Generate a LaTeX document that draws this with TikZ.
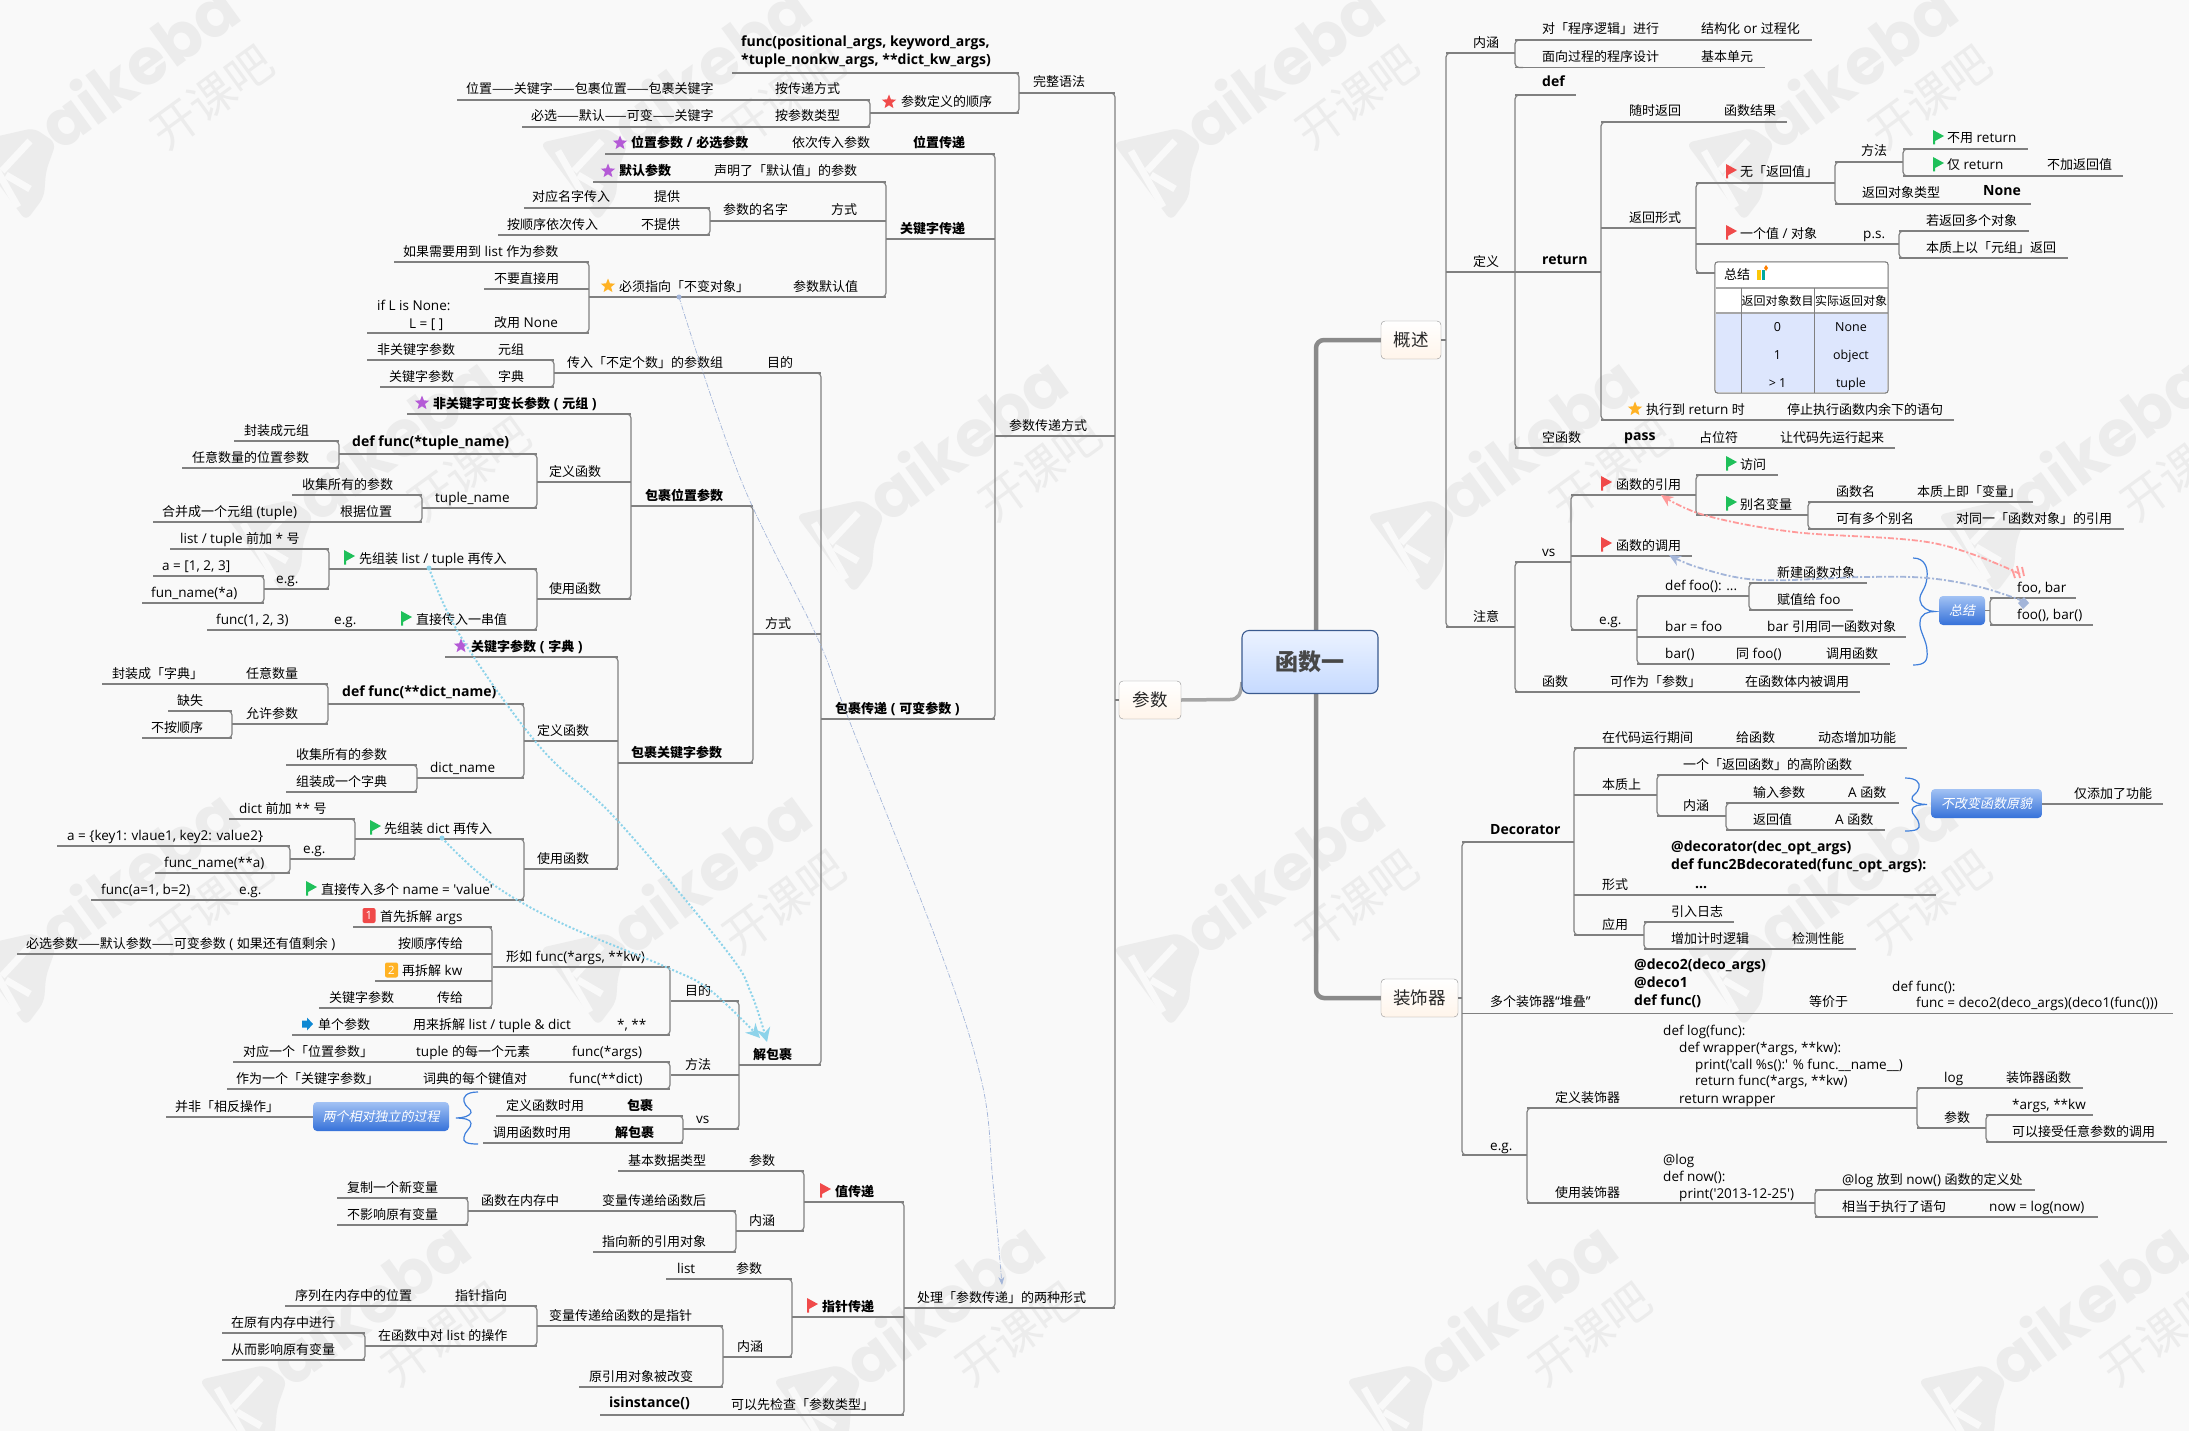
\documentclass[tikz,border=0pt]{standalone}
\usepackage{fontspec}
\usetikzlibrary{arrows.meta,calc,shapes.geometric}
\setmainfont{Open Sans}[Ligatures=TeXOff,Scale=1.04,BoldFeatures={Scale=1.08}]
\newfontfamily\cjkr[ItalicFont=*,ItalicFeatures={FakeSlant=0.2}]{Noto Sans CJK SC}
\newfontfamily\wmfont{Poppins}
\XeTeXinterchartokenstate=1
\newXeTeXintercharclass\cjkcl
\newcount\cc
\newcommand\setcjk[2]{\cc=#1\relax\loop\XeTeXcharclass\cc=\cjkcl\relax\ifnum\cc<#2\advance\cc 1\repeat}
\setcjk{"3000}{"30FF}
\setcjk{"4E00}{"9FFF}
\setcjk{"FF00}{"FFEF}
\XeTeXcharclass"2014=\cjkcl
\XeTeXinterchartoks 0 \cjkcl={\cjkr}
\XeTeXinterchartoks 4095 \cjkcl={\cjkr}
\XeTeXinterchartoks \cjkcl 0={\rmfamily}
\XeTeXinterchartoks \cjkcl 4095={\rmfamily}
\definecolor{bgc}{HTML}{F9F9F9}
\definecolor{wmc}{HTML}{ECECEC}
\definecolor{lnc}{HTML}{808080}
\definecolor{tk}{HTML}{8A8A8A}
\definecolor{fr}{HTML}{F04A4A}
\definecolor{fg}{HTML}{1FC05A}
\definecolor{stp}{HTML}{B45AD6}
\definecolor{sto}{HTML}{FFB224}
\definecolor{pinkr}{HTML}{FF9A9A}
\definecolor{blg}{HTML}{A3B5D9}
\definecolor{cyl}{HTML}{8DD3EA}
\definecolor{brc}{HTML}{3F7FDB}
\definecolor{tbf}{HTML}{DDE6FD}
\definecolor{bxt}{HTML}{A2C2F4}
\definecolor{bxb}{HTML}{3571D9}
\definecolor{ctt}{HTML}{EBF2FF}
\definecolor{ctb}{HTML}{C6DAFF}
\definecolor{ctd}{HTML}{3A5A8F}
\tikzset{
 lnk/.style={draw=lnc,line width=1.2bp},
 txt/.style={anchor=base west,inner sep=0pt,font=\fontsize{13bp}{16bp}\selectfont,text=black},
 bld/.style={txt,font=\fontsize{13bp}{16bp}\selectfont\bfseries},
 ctr/.style={txt,anchor=base},
 topbox/.style={draw=lnc!85,rounded corners=4bp,top color=white,bottom color=orange!8,inner sep=0pt,font=\fontsize{17.5bp}{20bp}\selectfont,text=black!85},
 bluebox/.style={rounded corners=4bp,top color=bxt,bottom color=bxb,inner sep=0pt,text=white,font=\fontsize{13bp}{16bp}\selectfont\itshape},
 star5/.style={star,star points=5,star point ratio=2.3,minimum size=15bp,inner sep=0pt,draw=none},
 trunk/.style={draw=tk,line width=4.5bp,rounded corners=8bp},
 brace/.style={draw=brc,line width=1.2bp},
 pinkrel/.style={draw=pinkr,line width=1.8bp,dash pattern=on 6bp off 2bp on 2bp off 2bp},
 blrel/.style={draw=blg,line width=1.8bp,dash pattern=on 6bp off 2bp on 2bp off 2bp},
 thinrel/.style={draw=blg,line width=.7bp,dash pattern=on 5bp off 1.5bp on 1bp off 1.5bp},
 cyrel/.style={draw=cyl,line width=2bp,dash pattern=on 2bp off 2bp},
 wmk/.style={inner sep=0pt,text=wmc,rotate=36}
}
\newcounter{tc}
\def\cy{0}
\newcommand\Ln[4]{\coordinate (#1-a) at (#2,#4);\coordinate (#1-b) at (#3,#4);\draw[lnk] (#1-a) -- (#1-b);\def\cy{#4}}
\newcommand\Tx[2]{\stepcounter{tc}\node[txt] (t\arabic{tc}) at (#1,\cy-6) {#2};}
\newcommand\Bd[2]{\stepcounter{tc}\node[bld] (t\arabic{tc}) at (#1,\cy-6) {#2};}
\newcommand\BdL[2]{\stepcounter{tc}\node[bld] (t\arabic{tc}) at (#1,\cy-8) {#2};}
\newcommand\At[3]{\stepcounter{tc}\node[txt] (t\arabic{tc}) at (#1,#2) {#3};}
\newcommand\AtB[3]{\stepcounter{tc}\node[bld] (t\arabic{tc}) at (#1,#2) {#3};}
\newcommand\Ct[3]{\stepcounter{tc}\node[ctr,font=\fontsize{12bp}{15bp}\selectfont] (t\arabic{tc}) at (#1,#2) {#3};}
\newcommand\Fg[2]{\fill[#2] (#1,\cy-19) -- (#1+11,\cy-13) -- (#1+2,\cy-8) -- (#1+2,\cy-4.5) -- (#1,\cy-4.5) -- cycle;}
\newcommand\St[2]{\stepcounter{tc}\node[star5,fill=#2] (t\arabic{tc}) at (#1,\cy-11) {};}
\newcommand\RB[2]{\draw[lnk,rounded corners=4bp] ($(#1-a)+(8,0)$) -- (#1-a) -- (#2-a) -- ($(#2-a)+(8,0)$);}
\newcommand\LB[2]{\draw[lnk,rounded corners=4bp] ($(#1-b)+(-8,0)$) -- (#1-b) -- (#2-b) -- ($(#2-b)+(-8,0)$);}
% brace: x of open ends, y mid, half height, direction
\newcommand\Brc[4]{\begin{scope}[shift={(#1,#2)},xscale=#4,yscale=#3/53]
\draw[brace] (0,-53) .. controls (12,-53) and (15,-43) .. (14,-34) .. controls (13,-21) and (6,-19) .. (7,-11) .. controls (8,-4) and (15,0) .. (22,0) .. controls (15,0) and (7,2) .. (7,11) .. controls (6,19) and (14,29) .. (14,39) .. controls (15,49) and (12,53) .. (0,53);
\end{scope}}
\newcommand\WM[2]{\begin{scope}[shift={(#1,#2)}]
\fill[wmc,rounded corners=7bp] (-4,-2) -- (62,-17) -- (84,-2) -- (74,26) -- (72,52) -- (54,76) -- cycle;
\draw[bgc,line width=7bp] (14,6) -- (46,62);
\draw[bgc,line width=7bp] (30,26) -- (58,-4);
\draw[bgc,line width=7bp] (34,30) -- (58,44);
\stepcounter{tc}\node[wmk,anchor=base west,font=\wmfont\fontsize{64bp}{66bp}\selectfont\bfseries] (t\arabic{tc}) at (88,8) {aikeba};
\stepcounter{tc}\node[wmk,font=\cjkr\fontsize{46bp}{50bp}\selectfont] (t\arabic{tc}) at (240,-48) {开课吧};
\end{scope}}
\begin{document}
\begin{tikzpicture}[x=1bp,y=-1bp]
\useasboundingbox (0,0) rectangle (2189,1431);
\fill[bgc] (0,0) rectangle (2189,1431);
\begin{scope}
\clip (0,0) rectangle (2189,1431);
\WM{-28}{145}\WM{544}{145}\WM{1117}{145}\WM{1690}{145}
\WM{229}{517}\WM{800}{517}\WM{1371}{517}\WM{1942}{517}
\WM{-28}{950}\WM{544}{950}\WM{1117}{950}\WM{1690}{950}
\WM{203}{1382}\WM{777}{1382}\WM{1350}{1382}\WM{1922}{1382}
\end{scope}

% ---------- boxes
\node[topbox,minimum width=60bp,minimum height=38bp] (gaishu) at (1411,340) {概述};
\node[topbox,minimum width=77bp,minimum height=38bp] (zsq) at (1419.5,998) {装饰器};
\node[topbox,minimum width=62bp,minimum height=38bp] (canshu) at (1150,700) {参数};
\coordinate (tr) at (1316,0);
\coordinate (cc) at (1242,682);
\draw[trunk] (gaishu.west) -- (tr |- gaishu.west) -- (tr |- zsq.west) -- (zsq.west);
\draw[draw=black!35,line width=3.5bp] (canshu.east) -- (1230,699.5) .. controls (1238,699.5) and (1241,695) .. (cc);

% ---------- right tree: 概述
\Ln{nh}{1446}{1515}{53}\At{1473}{48}{内涵}
\Ln{dy}{1446}{1515}{272}\Tx{1473}{定义}
\Ln{zy}{1446}{1515}{627}\At{1473}{621}{注意}
\RB{nh}{zy}
\draw[lnk] (gaishu.east) -- (gaishu.east -| nh-a);
\Ln{nh1}{1515}{1812}{40}\Tx{1542}{对「程序逻辑」进行}\Tx{1701}{结构化 or 过程化}
\Ln{nh2}{1515}{1765}{67.5}\Tx{1542}{面向过程的程序设计}\Tx{1701}{基本单元}
\RB{nh1}{nh2}
\Ln{def}{1515}{1576}{95}\BdL{1542}{def}
\Ln{ret}{1515}{1601}{272}\BdL{1542}{return}
\Ln{empty}{1515}{1895}{448}\Tx{1542}{空函数}\BdL{1624}{pass}\Tx{1699}{占位符}\Tx{1780}{让代码先运行起来}
\RB{def}{empty}
\Ln{r1}{1601}{1787}{122}\Tx{1629}{随时返回}\Tx{1724}{函数结果}
\Ln{r2}{1601}{1696}{228}\Tx{1629}{返回形式}
\Ln{r3}{1601}{1954}{420}\St{1635}{sto}\Tx{1646}{执行到 return 时}\Tx{1787}{停止执行函数内余下的语句}
\RB{r1}{r3}
\Ln{w}{1696}{1835}{183}\Fg{1726}{fr}\Tx{1740}{无「返回值」}
\Ln{wf}{1835}{1903}{162}\Tx{1861}{方法}
\Ln{wt}{1835}{2031}{204}\Tx{1862}{返回对象类型}\BdL{1983}{None}
\RB{wf}{wt}
\Ln{wf1}{1903}{2028}{149}\Fg{1933}{fg}\Tx{1947}{不用 return}
\Ln{wf2}{1903}{2123}{176}\Fg{1933}{fg}\Tx{1947}{仅 return}\Tx{2047}{不加返回值}
\RB{wf1}{wf2}
\Ln{one}{1696}{1899}{244}\Fg{1726}{fr}\Tx{1740}{一个值 / 对象}\Tx{1863}{p.s.}
\Ln{one1}{1899}{2029}{231}\Tx{1926}{若返回多个对象}
\Ln{one2}{1899}{2068}{258}\Tx{1926}{本质上以「元组」返回}
\RB{one1}{one2}
\Ln{sumr}{1696}{1715}{273}
\RB{w}{sumr}
% table
\node[draw=lnc,fill=white,rounded corners=3bp,minimum width=173bp,minimum height=131bp,inner sep=0pt] (tbl) at (1801.5,327.5) {};
\fill[fill=tbf] (1716,312) rectangle (1887,392);
\draw[draw=black!35,line width=2bp] (1715.5,288) -- (1887.5,288);
\draw[draw=black!35,line width=2bp] (1715.5,312.5) -- (1887.5,312.5);
\draw[draw=lnc,line width=1bp] (1741,288) -- (1741,393);
\draw[draw=lnc,line width=1bp] (1814,288) -- (1814,393);
\draw[draw=lnc,line width=1bp,rounded corners=3bp] (tbl.north west) rectangle (tbl.south east);
\At{1724}{279}{总结}
\fill[yellow!60!orange] (1757,270) rectangle (1760.5,280);\fill[cyan!50!green] (1761.5,270) rectangle (1765,280);\fill[orange] (1766,265) -- (1768,268) -- (1766,271) -- (1764,268) -- cycle;
\Ct{1777.5}{305.5}{返回对象数目}\Ct{1851}{305.5}{实际返回对象}
\Ct{1777.5}{331}{0}\Ct{1851}{331}{None}
\Ct{1777.5}{359}{1}\Ct{1851}{359}{object}
\Ct{1777.5}{387}{> 1}\Ct{1851}{387}{tuple}
% 注意
\Ln{vs}{1515}{1571}{562}\Tx{1542}{vs}
\Ln{fn}{1515}{1860}{692}\Tx{1542}{函数}\Tx{1610}{可作为「参数」}\Tx{1745}{在函数体内被调用}
\RB{vs}{fn}
\Ln{ref}{1571}{1696}{495}\Fg{1601}{fr}\Tx{1616}{函数的引用}
\Ln{call}{1571}{1692}{556}\Fg{1601}{fr}\Tx{1616}{函数的调用}
\Ln{eg}{1571}{1637}{630}\Tx{1599}{e.g.}
\RB{ref}{eg}
\Ln{acc}{1696}{1778}{475}\Fg{1726}{fg}\Tx{1740}{访问}
\Ln{ali}{1696}{1808}{515}\Fg{1726}{fg}\Tx{1740}{别名变量}
\RB{acc}{ali}
\Ln{ali1}{1808}{2033}{502}\Tx{1836}{函数名}\Tx{1917}{本质上即「变量」}
\Ln{ali2}{1808}{2124}{529}\Tx{1836}{可有多个别名}\Tx{1956}{对同一「函数对象」的引用}
\RB{ali1}{ali2}
\Ln{foo}{1637}{1749}{596}\Tx{1665}{def foo(): ...}
\Ln{bar}{1637}{1906}{637}\Tx{1665}{bar = foo}\Tx{1767}{bar 引用同一函数对象}
\Ln{bar2}{1637}{1890}{664}\Tx{1665}{bar()}\Tx{1736}{同 foo()}\Tx{1826}{调用函数}
\RB{foo}{bar2}
\Ln{foo1}{1749}{1867}{583}\Tx{1777}{新建函数对象}
\Ln{foo2}{1749}{1853}{610}\Tx{1777}{赋值给 foo}
\RB{foo1}{foo2}
\Brc{1913}{611.5}{53.5}{1}
\node[bluebox,minimum width=46bp,minimum height=29bp] (zj) at (1962,610.5) {总结};
\Ln{fb}{1990}{2076}{598}\Tx{2017}{foo, bar}
\Ln{fc}{1990}{2093}{625}\Tx{2017}{foo(), bar()}
\RB{fb}{fc}
\draw[lnk] (zj.east) -- (zj.east -| fb-a);

% ---------- right tree: 装饰器
\Ln{dec}{1462}{1574}{842}\BdL{1490}{Decorator}
\Ln{dup}{1462}{2173}{1013.5}\At{1490}{1006}{多个装饰器“堆叠”}
\Ln{deg}{1462}{1527}{1155}\At{1490}{1150}{e.g.}
\RB{dec}{deg}
\draw[lnk] (zsq.east) -- (zsq.east -| dec-a);
\AtB{1634}{969}{@deco2(deco\_args)}\AtB{1634}{987}{@deco1}\AtB{1634}{1005}{def func()}
\At{1809}{1006}{等价于}\At{1892}{991}{def func():}\At{1916}{1007}{func = deco2(deco\_args)(deco1(func()))}
\Ln{d1}{1574}{1907}{748}\Tx{1602}{在代码运行期间}\Tx{1736}{给函数}\Tx{1818}{动态增加功能}
\Ln{d2}{1574}{1657}{795}\Tx{1602}{本质上}
\Ln{d3}{1574}{1936}{895}\Tx{1602}{形式}
\Ln{d4}{1574}{1644}{935}\Tx{1602}{应用}
\RB{d1}{d4}
\Ln{d21}{1657}{1864}{775}\Tx{1683}{一个「返回函数」的高阶函数}
\Ln{d22}{1657}{1726}{816}\Tx{1683}{内涵}
\RB{d21}{d22}
\Ln{d221}{1726}{1899}{803}\Tx{1753}{输入参数}\Tx{1848}{A 函数}
\Ln{d222}{1726}{1885}{830}\Tx{1753}{返回值}\Tx{1835}{A 函数}
\RB{d221}{d222}
\Brc{1905}{804.5}{26.5}{1}
\node[bluebox,minimum width=111bp,minimum height=29bp] (bgb) at (1986.5,803.5) {不改变函数原貌};
\Ln{only}{2042}{2163}{804}\Tx{2074}{仅添加了功能}
\AtB{1671}{851}{@decorator(dec\_opt\_args)}\AtB{1671}{869}{def func2Bdecorated(func\_opt\_args):}\AtB{1695}{888}{...}
\Ln{d41}{1644}{1734}{922}\Tx{1671}{引入日志}
\Ln{d42}{1644}{1856}{949}\Tx{1671}{增加计时逻辑}\Tx{1792}{检测性能}
\RB{d41}{d42}
\Ln{def1}{1527}{1917}{1108}\Tx{1555}{定义装饰器}
\Ln{use1}{1527}{1815}{1203}\Tx{1555}{使用装饰器}
\RB{def1}{use1}
\At{1663}{1035}{def log(func):}\At{1679}{1052}{def wrapper(*args, **kw):}\At{1695}{1069}{print('call \%s():' \% func.\_\_name\_\_)}\At{1695}{1085}{return func(*args, **kw)}\At{1679}{1103}{return wrapper}
\Ln{lg}{1917}{2083}{1088}\Tx{1944}{log}\Tx{2006}{装饰器函数}
\Ln{cs}{1917}{1986}{1128}\Tx{1944}{参数}
\RB{lg}{cs}
\Ln{cs1}{1986}{2093}{1115}\Tx{2012}{*args, **kw}
\Ln{cs2}{1986}{2167}{1142}\Tx{2012}{可以接受任意参数的调用}
\RB{cs1}{cs2}
\At{1663}{1164}{@log}\At{1663}{1181}{def now():}\At{1679}{1198}{print('2013-12-25')}
\Ln{u1}{1815}{2035}{1190}\Tx{1842}{@log 放到 now() 函数的定义处}
\Ln{u2}{1815}{2098}{1217}\Tx{1842}{相当于执行了语句}\Tx{1989}{now = log(now)}
\RB{u1}{u2}

% ---------- left tree
\Ln{full}{1019}{1115}{93}\Tx{1033}{完整语法}
\Ln{pass}{995}{1115}{436}\Tx{1009}{参数传递方式}
\Ln{hand}{904}{1115}{1308}\Tx{917}{处理「参数传递」的两种形式}
\LB{full}{hand}
\draw[lnk] (canshu.west) -- (canshu.west -| full-b);
\Ln{sig}{732}{1019}{73}\AtB{741}{47}{func(positional\_args, keyword\_args,}\AtB{741}{65}{*tuple\_nonkw\_args, **dict\_kw\_args)}
\Ln{ord}{870}{1019}{113}\St{889}{fr}\Tx{901}{参数定义的顺序}
\LB{sig}{ord}
\Ln{o1}{457}{870}{100}\Tx{466}{位置——关键字——包裹位置——包裹关键字}\Tx{775}{按传递方式}
\Ln{o2}{522}{870}{127}\Tx{531}{必选——默认——可变——关键字}\Tx{775}{按参数类型}
\LB{o1}{o2}
\Ln{pos}{605}{995}{154}\St{620}{stp}\Bd{631}{位置参数 / 必选参数}\Tx{792}{依次传入参数}\Bd{913}{位置传递}
\Ln{kw}{886}{995}{239}\Bd{900}{关键字传递}
\Ln{wrap}{821}{995}{719}\Bd{835}{包裹传递 ( 可变参数 )}
\LB{pos}{wrap}
\Ln{k1}{593}{886}{182}\St{608}{stp}\Bd{619}{默认参数}\Tx{714}{声明了「默认值」的参数}
\Ln{k2}{710}{886}{221}\Tx{723}{参数的名字}\Tx{831}{方式}
\Ln{k3}{589}{886}{297}\St{608}{sto}\Tx{619}{必须指向「不变对象」}\Tx{793}{参数默认值}
\LB{k1}{k3}
\Ln{k21}{524}{710}{208}\Tx{532}{对应名字传入}\Tx{654}{提供}
\Ln{k22}{498}{710}{235}\Tx{507}{按顺序依次传入}\Tx{641}{不提供}
\LB{k21}{k22}
\Ln{k31}{394}{589}{262}\Tx{403}{如果需要用到 list 作为参数}
\Ln{k32}{484}{589}{289}\Tx{494}{不要直接用}
\Ln{k33}{367}{589}{333}\At{377}{310}{if L is None:}\At{409}{328}{L = [ ]}\Tx{494}{改用 None}
\LB{k31}{k33}
\Ln{w1}{554}{821}{373}\Tx{567}{传入「不定个数」的参数组}\Tx{767}{目的}
\Ln{w2}{753}{821}{634}\Tx{765}{方式}
\Ln{w3}{739}{821}{1065}\Bd{753}{解包裹}
\LB{w1}{w3}
\Ln{w11}{367}{554}{360}\Tx{377}{非关键字参数}\Tx{498}{元组}
\Ln{w12}{380}{554}{387}\Tx{389}{关键字参数}\Tx{498}{字典}
\LB{w11}{w12}
\Ln{tp}{631}{753}{506}\Bd{645}{包裹位置参数}
\Ln{dk}{618}{753}{763}\Bd{631}{包裹关键字参数}
\LB{tp}{dk}
\Ln{tp1}{407}{631}{414}\St{422}{stp}\Bd{433}{非关键字可变长参数 ( 元组 )}
\Ln{tp2}{537}{631}{482}\Tx{549}{定义函数}
\Ln{tp3}{537}{631}{599}\Tx{549}{使用函数}
\LB{tp1}{tp3}
\Ln{t21}{339}{537}{454}\BdL{352}{def func(*tuple\_name)}
\Ln{t22}{422}{537}{508}\Tx{435}{tuple\_name}
\LB{t21}{t22}
\Ln{t211}{234}{339}{441}\Tx{244}{封装成元组}
\Ln{t212}{182}{339}{468}\Tx{192}{任意数量的位置参数}
\LB{t211}{t212}
\Ln{t221}{292}{422}{495}\Tx{302}{收集所有的参数}
\Ln{t222}{153}{422}{522}\Tx{162}{合并成一个元组 (tuple)}\Tx{340}{根据位置}
\LB{t221}{t222}
\Ln{t31}{329}{537}{569}\Fg{344}{fg}\Tx{359}{先组装 list / tuple 再传入}
\Ln{t32}{207}{537}{630}\Tx{216}{func(1, 2, 3)}\Tx{334}{e.g.}\Fg{401}{fg}\Tx{416}{直接传入一串值}
\LB{t31}{t32}
\Ln{t311}{170}{329}{549}\Tx{180}{list / tuple 前加 * 号}
\Ln{t312}{264}{329}{589}\Tx{276}{e.g.}
\LB{t311}{t312}
\Ln{t3121}{153}{264}{576}\Tx{162}{a = [1, 2, 3]}
\Ln{t3122}{142}{264}{603}\Tx{151}{fun\_name(*a)}
\LB{t3121}{t3122}
\Ln{dk1}{445}{618}{657}\St{461}{stp}\Bd{471}{关键字参数 ( 字典 )}
\Ln{dk2}{524}{618}{741}\Tx{537}{定义函数}
\Ln{dk3}{524}{618}{869}\Tx{537}{使用函数}
\LB{dk1}{dk3}
\Ln{e1}{328}{524}{704}\BdL{342}{def func(**dict\_name)}
\Ln{e2}{417}{524}{778}\Tx{430}{dict\_name}
\LB{e1}{e2}
\Ln{e11}{102}{328}{684}\Tx{112}{封装成「字典」}\Tx{246}{任意数量}
\Ln{e12}{232}{328}{724}\Tx{246}{允许参数}
\LB{e11}{e12}
\Ln{e121}{168}{232}{711}\Tx{177}{缺失}
\Ln{e122}{142}{232}{738}\Tx{151}{不按顺序}
\LB{e121}{e122}
\Ln{e21}{286}{417}{765}\Tx{296}{收集所有的参数}
\Ln{e22}{286}{417}{792}\Tx{296}{组装成一个字典}
\LB{e21}{e22}
\Ln{f1}{355}{524}{839}\Fg{370}{fg}\Tx{384}{先组装 dict 再传入}
\Ln{f2}{91}{524}{900}\Tx{101}{func(a=1, b=2)}\Tx{239}{e.g.}\Fg{306}{fg}\Tx{321}{直接传入多个 name = 'value'}
\LB{f1}{f2}
\Ln{f11}{229}{355}{819}\Tx{239}{dict 前加 ** 号}
\Ln{f12}{290}{355}{859}\Tx{303}{e.g.}
\LB{f11}{f12}
\Ln{f121}{57}{290}{846}\Tx{67}{a = \{key1: vlaue1, key2: value2\}}
\Ln{f122}{155}{290}{873}\Tx{164}{func\_name(**a)}
\LB{f121}{f122}
\Ln{g1}{671}{739}{1001}\Tx{685}{目的}
\Ln{g2}{671}{739}{1075}\Tx{685}{方法}
\Ln{g3}{683}{739}{1129}\Tx{696}{vs}
\LB{g1}{g3}
\Ln{g11}{493}{670}{967}\Tx{506}{形如 func(*args, **kw)}
\Ln{g12}{292}{670}{1035}\fill[cyan!70!blue] (302,1020.5) -- (307,1020.5) -- (307,1017.5) -- (313,1024) -- (307,1030.5) -- (307,1027.5) -- (302,1027.5) -- cycle;\Tx{318}{单个参数}\Tx{413}{用来拆解 list / tuple \& dict}\Tx{617}{*, **}
\LB{g11}{g12}
\Ln{g111}{353}{492}{927}\Tx{380}{首先拆解 args}
\node[fill=fr,rounded corners=2bp,minimum width=13bp,minimum height=15bp,inner sep=0pt,text=white,font=\fontsize{11bp}{12bp}\selectfont] (bd1) at (369,915.5) {1};
\Ln{g112}{17}{492}{954}\Tx{26}{必选参数——默认参数——可变参数 ( 如果还有值剩余 )}\Tx{398}{按顺序传给}
\Ln{g113}{375}{492}{981}\Tx{402}{再拆解 kw}
\node[fill=sto,rounded corners=2bp,minimum width=13bp,minimum height=15bp,inner sep=0pt,text=white,font=\fontsize{11bp}{12bp}\selectfont] (bd2) at (391.5,970) {2};
\Ln{g114}{319}{492}{1008}\Tx{329}{关键字参数}\Tx{437}{传给}
\LB{g111}{g114}
\Ln{g21}{233}{670}{1062}\Tx{243}{对应一个「位置参数」}\Tx{416}{tuple 的每一个元素}\Tx{572}{func(*args)}
\Ln{g22}{227}{670}{1089}\Tx{236}{作为一个「关键字参数」}\Tx{423}{词典的每个键值对}\Tx{569}{func(**dict)}
\LB{g21}{g22}
\Ln{g31}{496}{683}{1116}\Tx{506}{定义函数时用}\Bd{627}{包裹}
\Ln{g32}{483}{683}{1143}\Tx{493}{调用函数时用}\Bd{615}{解包裹}
\LB{g31}{g32}
\Brc{478}{1118}{26}{-1}
\node[bluebox,minimum width=136bp,minimum height=29bp] (lg2) at (381,1116.5) {两个相对独立的过程};
\Ln{notop}{166}{313}{1117}\Tx{175}{并非「相反操作」}
\Ln{v1}{804}{904}{1202}\Fg{820}{fr}\Bd{835}{值传递}
\Ln{v2}{792}{904}{1317}\Fg{807}{fr}\Bd{822}{指针传递}
\Ln{v3}{600}{904}{1415}\BdL{609}{isinstance()}\Tx{731}{可以先检查「参数类型」}
\LB{v1}{v3}
\Ln{v11}{618}{804}{1171}\Tx{628}{基本数据类型}\Tx{749}{参数}
\Ln{v12}{736}{804}{1231}\Tx{749}{内涵}
\LB{v11}{v12}
\Ln{v121}{468}{736}{1211}\Tx{481}{函数在内存中}\Tx{602}{变量传递给函数后}
\Ln{v122}{593}{736}{1252}\Tx{602}{指向新的引用对象}
\LB{v121}{v122}
\Ln{v1211}{337}{468}{1198}\Tx{347}{复制一个新变量}
\Ln{v1212}{337}{468}{1225}\Tx{347}{不影响原有变量}
\LB{v1211}{v1212}
\Ln{p1}{666}{792}{1279}\Tx{677}{list}\Tx{736}{参数}
\Ln{p2}{723}{792}{1357}\Tx{737}{内涵}
\LB{p1}{p2}
\Ln{p21}{537}{723}{1326}\Tx{549}{变量传递给函数的是指针}
\Ln{p22}{579}{723}{1387}\Tx{589}{原引用对象被改变}
\LB{p21}{p22}
\Ln{p211}{285}{537}{1306}\Tx{295}{序列在内存中的位置}\Tx{455}{指针指向}
\Ln{p212}{365}{537}{1346}\Tx{378}{在函数中对 list 的操作}
\LB{p211}{p212}
\Ln{p2121}{222}{365}{1333}\Tx{231}{在原有内存中进行}
\Ln{p2122}{222}{365}{1360}\Tx{231}{从而影响原有变量}
\LB{p2121}{p2122}

% ---------- centre
\node[draw=ctd,line width=1.1bp,rounded corners=7bp,top color=ctt,bottom color=ctb,minimum width=136bp,minimum height=63bp,inner sep=0pt,text=black!72,font=\fontsize{23bp}{26bp}\selectfont\bfseries] (ctr) at (1310,662) {函数一};

% ---------- relationships
\coordinate (ra) at (679,297);
\coordinate (rb) at (1002,1285);
\coordinate (rc) at (429,568);
\coordinate (rd) at (442,838);
\coordinate (re) at (767,1042);
\coordinate (rf) at (760,1038);
\draw[thinrel,-{Stealth[length=8bp,width=6bp]}] plot[smooth,tension=.6] coordinates {(ra) (741,480) (817,637) (849,720) (940,950) (982,1083) (993,1183) (rb)};
\fill[blg] (ra) circle (2.5bp);
\draw[cyrel,-{Stealth[length=14bp,width=14bp]}] plot[smooth,tension=.6] coordinates {(rc) (461,637) (540,747) (617,820) (726,950) (751,993) (re)};
\fill[cyl] (rc) circle (2.5bp);
\draw[cyrel,-{Stealth[length=14bp,width=14bp]}] plot[smooth,tension=.6] coordinates {(rd) (491,883) (561,923) (666,967) (710,990) (rf)};
\fill[cyl] (rd) circle (2.5bp);
\coordinate (pa) at (2020,574);
\coordinate (pb) at (1661,495);
\coordinate (qa) at (2023,601);
\coordinate (qb) at (1669,555);
\draw[pinkrel,-{Stealth[length=12bp,width=11bp]}] plot[smooth,tension=.6] coordinates {(pa) (1933,543) (1794,532) (1704,515) (pb)};
\draw[draw=pinkr,line width=1.8bp] (2012,569) -- (2015,578) (2017,566) -- (2020,578) (2022,567) -- (2024,576);
\draw[blrel,-{Stealth[length=12bp,width=11bp]}] plot[smooth,tension=.6] coordinates {(qa) (1980,587) (1927,578) (1864,577) (1760,580) (1700,568) (qb)};
\fill[blg] (2024,597) -- (2029,603) -- (2023,609) -- (2018,603) -- cycle;
\end{tikzpicture}
\end{document}
